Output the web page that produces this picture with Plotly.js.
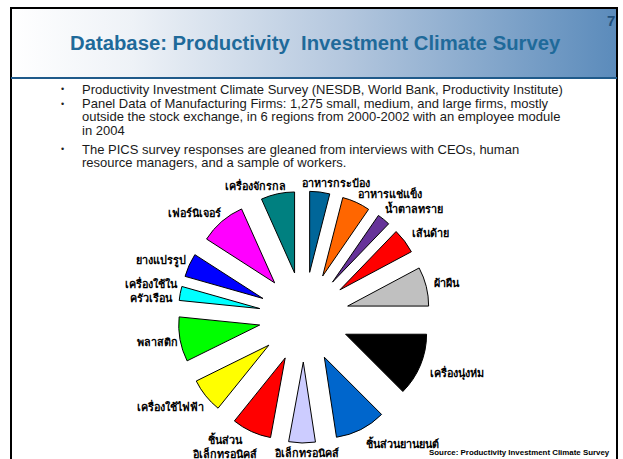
<!DOCTYPE html>
<html><head><meta charset="utf-8">
<script src="https://cdn.plot.ly/plotly-3.0.1.min.js"></script>
<style>html,body{margin:0;padding:0;background:#fff;overflow:hidden}</style>
</head><body><div id="chart" style="width:623px;height:459px"></div>
<script>
const W = 623, H = 459;

// ---- data ----
const categories = ['อาหารกระป๋อง','อาหารแช่แข็ง','น้ำตาลทราย','เส้นด้าย','ผ้าผืน','เครื่องนุ่งห่ม',
  'ชิ้นส่วนยานยนต์','อิเล็กทรอนิคส์','ชิ้นส่วนอิเล็กทรอนิคส์','เครื่องใช้ไฟฟ้า','พลาสติก',
  'เครื่องใช้ในครัวเรือน','ยางแปรรูป','เฟอร์นิเจอร์','เครื่องจักรกล'];
const labelText = ['อาหารกระป๋อง','อาหารแช่แข็ง','น้ำตาลทราย','เส้นด้าย','ผ้าผืน','เครื่องนุ่งห่ม',
  'ชิ้นส่วนยานยนต์','อิเล็กทรอนิคส์','ชิ้นส่วน<br>อิเล็กทรอนิคส์','เครื่องใช้ไฟฟ้า','พลาสติก',
  'เครื่องใช้ใน<br>ครัวเรือน','ยางแปรรูป','เฟอร์นิเจอร์','เครื่องจักรกล'];
const shares = [4.0, 5.6, 2.6, 5.0, 7.8, 12.5, 10.1, 5.3, 7.9, 6.9, 8.9, 2.8, 4.7, 9.2, 6.7];
const titleText = 'Database: Productivity  Investment Climate Survey';
const pageNumber = '7';
const bulletParas = [
  ['Productivity Investment Climate Survey (NESDB, World Bank, Productivity Institute)'],
  ['Panel Data of Manufacturing Firms: 1,275 small, medium, and large firms, mostly',
   'outside the stock exchange, in 6 regions from 2000-2002 with an employee module',
   'in 2004'],
  ['The PICS survey responses are gleaned from interviews with CEOs, human',
   'resource managers, and a sample of workers.']
];
const sourceText = 'Source: Productivity Investment Climate Survey';

// ---- styles / layout positions ----
const colors = ['#006699','#FF6600','#663399','#FF0000','#C0C0C0','#000000',
  '#0066CC','#CCCCFF','#FF0000','#FFFF00','#00FF00','#00FFFF','#0000FF','#FF00FF','#008080'];
const labelPx = [[336,183],[390,193],[414,208],[430,233],[447,283],[457,373],
  [402,443],[306,452],[224,446],[170,406],[157,342],[151,290],[161,261],[194,213],[255,185]];
const bulletLineY = [[89],[104,117,130],[149,162]];

const px = x => x / W;
const py = y => 1 - y / H;
const thaiFont = 'Liberation Sans, Arial, Noto Sans, sans-serif';
const latinFont = 'Liberation Sans, Arial, sans-serif';

const pie = {
  type: 'pie',
  labels: categories,
  values: shares,
  sort: false,
  direction: 'clockwise',
  rotation: 0,
  pull: shares.map(() => 0.556),
  marker: {colors: colors, line: {color: '#000', width: 1}},
  textinfo: 'none',
  hoverinfo: 'label+percent',
  showlegend: false,
  domain: {x: [px(178), px(430)], y: [py(443), py(191)]}
};

const annotations = [];
labelText.forEach((t, i) => {
  annotations.push({xref:'paper', yref:'paper', x: px(labelPx[i][0]), y: py(labelPx[i][1]),
    text: '<b>' + t + '</b>', showarrow:false, xanchor:'center', yanchor:'middle', align:'center',
    font:{family: thaiFont, size: 10.8, color:'#000'}});
});
annotations.push({xref:'paper', yref:'paper', x: px(315), y: py(43), text: '<b>' + titleText + '</b>',
  showarrow:false, xanchor:'center', yanchor:'middle', font:{family: latinFont, size: 20.3, color:'#1F6A9A'}});
annotations.push({xref:'paper', yref:'paper', x: px(611), y: py(20), text: '<b>' + pageNumber + '</b>',
  showarrow:false, xanchor:'center', yanchor:'middle', font:{family: latinFont, size: 15, color:'#1F4E79'}});
bulletParas.forEach((para, i) => {
  annotations.push({xref:'paper', yref:'paper', x: px(62), y: py(bulletLineY[i][0]), text: '•',
    showarrow:false, xanchor:'center', yanchor:'middle', font:{family: latinFont, size: 9, color:'#222'}});
  para.forEach((line, j) => {
    annotations.push({xref:'paper', yref:'paper', x: px(81), y: py(bulletLineY[i][j]), text: line,
      showarrow:false, xanchor:'left', yanchor:'middle', borderpad: 0,
      font:{family: latinFont, size: 13, color:'#1a1a1a'}});
  });
});
annotations.push({xref:'paper', yref:'paper', x: px(612), y: py(452), text: '<b>' + sourceText + '</b>',
  showarrow:false, xanchor:'right', yanchor:'middle', font:{family: latinFont, size: 7.9, color:'#000'}});

const gradSvg = '<svg xmlns="http://www.w3.org/2000/svg" width="606" height="69" viewBox="0 0 606 69" preserveAspectRatio="none">' +
  '<defs><linearGradient id="g" x1="0" y1="0" x2="1" y2="0">' +
  '<stop offset="0" stop-color="#ffffff"/><stop offset="0.2" stop-color="#eef2f7"/>' +
  '<stop offset="0.55" stop-color="#b4c7de"/><stop offset="1" stop-color="#5b8bbb"/>' +
  '</linearGradient></defs><rect width="606" height="69" fill="url(#g)"/></svg>';

const layout = {
  width: W, height: H,
  margin: {l:0, r:0, t:0, b:0},
  paper_bgcolor: '#fff',
  showlegend: false,
  images: [{source: 'data:image/svg+xml;charset=utf-8,' + encodeURIComponent(gradSvg),
    xref:'paper', yref:'paper', x: px(11), y: py(9), sizex: px(606), sizey: 69 / H,
    xanchor:'left', yanchor:'top', sizing:'stretch', layer:'below'}],
  shapes: [
    {type:'line', xref:'paper', yref:'paper', x0: px(11), x1: px(11), y0: py(8), y1: py(470), line:{color:'#000', width:2}},
    {type:'line', xref:'paper', yref:'paper', x0: px(617), x1: px(617), y0: py(8), y1: py(470), line:{color:'#000', width:2}},
    {type:'line', xref:'paper', yref:'paper', x0: px(10), x1: px(618), y0: py(8), y1: py(8), line:{color:'#000', width:2}},
    {type:'line', xref:'paper', yref:'paper', x0: px(11), x1: px(617), y0: py(78), y1: py(78), line:{color:'#1F5A8A', width:2}}
  ],
  annotations: annotations
};

Plotly.newPlot('chart', [pie], layout, {staticPlot: true, displayModeBar: false});
</script></body></html>
